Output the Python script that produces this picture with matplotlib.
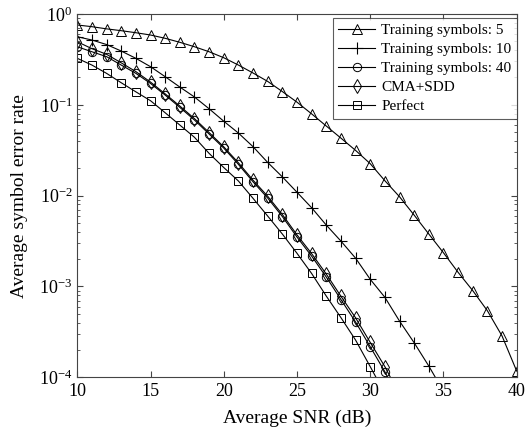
import numpy as np
import matplotlib
matplotlib.use("Agg")
import matplotlib.pyplot as plt

plt.rcParams['font.family'] = ['Liberation Serif', 'DejaVu Serif']
plt.rcParams['mathtext.fontset'] = 'custom'
plt.rcParams['mathtext.rm'] = 'Liberation Serif'
plt.rcParams['mathtext.it'] = 'Liberation Serif:italic'

# SNR points (dB); last point of each curve lies just below the axis (clipped)
snr_5 = list(range(10, 41))
ser_5 = [0.757, 0.725, 0.686, 0.655, 0.622, 0.587, 0.540, 0.488, 0.436, 0.384,
         0.330, 0.274, 0.224, 0.181, 0.140, 0.107, 0.0795, 0.0584, 0.0430, 0.0315,
         0.0225, 0.0146, 0.00973, 0.00610, 0.00378, 0.00235, 0.00143, 0.00090,
         0.00054, 0.000285, 0.000117]

snr_10 = list(range(10, 36))
ser_10 = [0.562, 0.517, 0.461, 0.391, 0.325, 0.263, 0.204, 0.157, 0.122, 0.0905,
          0.0660, 0.0489, 0.0346, 0.0232, 0.0161, 0.0109, 0.00736, 0.00474, 0.00316,
          0.00205, 0.00120, 0.00076, 0.000416, 0.000240, 0.000133, 0.000070]

snr_40 = list(range(10, 33))
ser_40 = [0.436, 0.384, 0.339, 0.274, 0.222, 0.172, 0.128, 0.0938, 0.0680, 0.0477,
          0.0334, 0.0221, 0.0142, 0.00941, 0.00589, 0.00350, 0.00216, 0.00127,
          0.000718, 0.000406, 0.000217, 0.000115, 0.000056]

snr_cma = list(range(10, 33))
ser_cma = [0.495, 0.415, 0.360, 0.290, 0.232, 0.178, 0.132, 0.0970, 0.0705, 0.0495,
           0.0345, 0.0230, 0.0148, 0.00985, 0.00620, 0.00370, 0.00230, 0.00137,
           0.00078, 0.000452, 0.000242, 0.000131, 0.000064]

snr_perf = list(range(10, 32))
ser_perf = [0.325, 0.274, 0.222, 0.175, 0.139, 0.111, 0.0818, 0.0599, 0.0439, 0.0292,
            0.0204, 0.0145, 0.00934, 0.00596, 0.00378, 0.00232, 0.00139, 0.000784,
            0.000454, 0.000257, 0.000131, 0.000066]

labels = ['Training symbols: 5', 'Training symbols: 10', 'Training symbols: 40',
          'CMA+SDD', 'Perfect']

fig = plt.figure(figsize=(5.25, 4.32), dpi=100)
ax = fig.add_axes([0.1472, 0.1266, 0.837, 0.8410])

lw = 0.8
ax.plot(snr_5, ser_5, '-^', color='black', lw=lw, ms=7, mfc='none', mew=0.7, label=labels[0])
ax.plot(snr_10, ser_10, '-+', color='black', lw=lw, ms=8, mew=0.8, label=labels[1])
ax.plot(snr_40, ser_40, '-o', color='black', lw=lw, ms=6, mfc='none', mew=0.7, label=labels[2])
ax.plot(snr_cma, ser_cma, '-d', color='black', lw=lw, ms=7, mfc='none', mew=0.7, label=labels[3])
ax.plot(snr_perf, ser_perf, '-s', color='black', lw=lw, ms=5.5, mfc='none', mew=0.7, label=labels[4])

ax.set_yscale('log')
ax.set_xlim(10, 40)
ax.set_ylim(1e-4, 1)
ax.set_xticks([10, 15, 20, 25, 30, 35, 40])
ax.tick_params(axis='both', which='both', direction='in', top=True, right=True,
               labelsize=13, color='#444444')
ax.tick_params(which='major', length=4)
ax.tick_params(which='minor', length=2)
ax.tick_params(axis='x', pad=4)
for s in ax.spines.values():
    s.set_color('#444444')
    s.set_linewidth(0.8)

ax.set_xlabel('Average SNR (dB)', fontsize=14, labelpad=7)
ax.set_ylabel('Average symbol error rate', fontsize=14, labelpad=8)

leg = ax.legend(loc='upper right', bbox_to_anchor=(1.0, 0.989), fontsize=11,
                frameon=True, fancybox=False, edgecolor='#333333', borderaxespad=0,
                handlelength=2.4, handletextpad=0.4, labelspacing=0.35, borderpad=0.35)
leg.get_frame().set_linewidth(0.8)

fig.savefig('out.png', dpi=100)
